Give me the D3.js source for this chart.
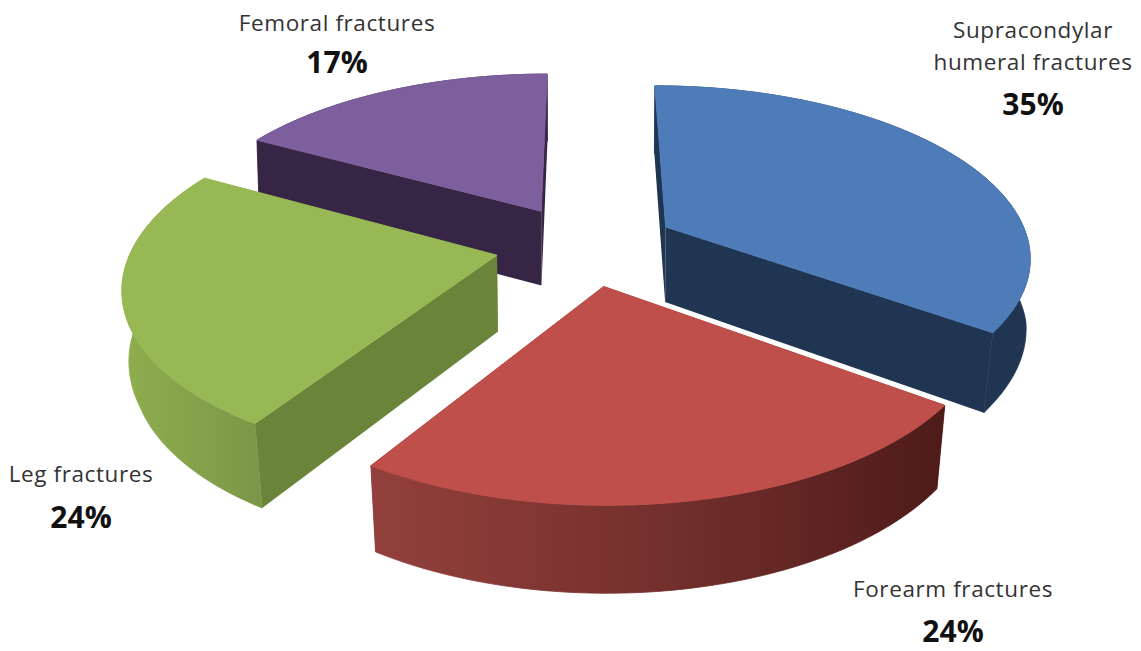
<!DOCTYPE html>
<html>
<head>
<meta charset="utf-8">
<script src="https://cdnjs.cloudflare.com/ajax/libs/d3/7.8.5/d3.min.js"></script>
<style>
  html, body { margin: 0; padding: 0; background: #fff; }
  svg { display: block; }
  text { font-family: "Open Sans", sans-serif; text-anchor: middle; }
  .name { font-size: 22.5px; letter-spacing: 0.6px; fill: #333; }
  .pct { font-size: 30px; font-weight: 700; fill: #111; }
</style>
</head>
<body>
<script>
(function(d3) {
  "use strict";

  var categories = ["Supracondylar humeral fractures", "Forearm fractures", "Leg fractures", "Femoral fractures"];
  var shares = [35, 24, 24, 17];
  var topColors = ["#4e7cb8", "#bf4f4b", "#98b855", "#7d5f9d"];
  var wallColors = ["#1f3552", "#6f2a28", "#6a843a", "#372545"];
  var rimStops = [
    ["#1f3552", "#1f3552"],
    ["#93403c", "#74302d", "#4e1b19"],
    ["#8fae4e", "#7b9647"],
    ["#372545", "#372545"]
  ];
  var nameLines = [["Supracondylar", "humeral fractures"], ["Forearm fractures"], ["Leg fractures"], ["Femoral fractures"]];
  var pctLabels = ["35%", "24%", "24%", "17%"];
  var drawOrder = [3, 0, 2, 1];

  var width = 1141, height = 651;
  var explodeX = 0.25, explodeY = 0.24;   // how far each slice is pulled out, in radii
  var persp = 0.16;     // how fast things shrink toward the back
  var thickness = 76;

  var x = d3.scaleLinear().domain([-1, 1]).range([586 - 364, 586 + 364]);
  var y = d3.scaleLinear().domain([-1, 1]).range([245 + 169, 245 - 169]);
  // underside sits a bit further from the camera, more so at the front
  var lowShrink = d3.scaleLinear().domain([-0.45, 0]).range([0.978, 0.993]).clamp(true);

  var svg = d3.select("body").append("svg")
      .attr("width", width)
      .attr("height", height);
  var defs = svg.append("defs");

  var slices = d3.pie().sort(null).value(function(d) { return d; })(shares);

  // ground plane (px, py) -> screen, lifted down by the slab thickness when low is set
  function project(px, py, low) {
    var w = 1 + persp * py;
    if (low) {
      return [x(lowShrink(py) * px / w), y(py / w) + thickness / (1 + 0.11 * py)];
    }
    return [x(px / w), y(py / w)];
  }

  function sliceGeom(s) {
    var mid = (s.startAngle + s.endAngle) / 2;
    var ax = explodeX * Math.sin(mid), ay = explodeY * Math.cos(mid);
    var rim = d3.range(0, 61).map(function(i) {
      var t = s.startAngle + (s.endAngle - s.startAngle) * i / 60;
      return [ax + Math.sin(t), ay + Math.cos(t)];
    });
    return { apex: [ax, ay], rim: rim };
  }

  var line = d3.line().curve(d3.curveLinearClosed);

  function up(p) { return project(p[0], p[1], false); }
  function down(p) { return project(p[0], p[1], true); }

  drawOrder.forEach(function(i) {
    var g = sliceGeom(slices[i]);
    var rim = g.rim;
    var first = rim[0], last = rim[rim.length - 1];
    var group = svg.append("g").attr("class", "slice");

    var grad = defs.append("linearGradient").attr("id", "rim" + i);
    rimStops[i].forEach(function(c, j, all) {
      grad.append("stop").attr("offset", j / (all.length - 1)).attr("stop-color", c);
    });

    // cut faces first, then the curved outside (stroke hides the seam), the top goes over all of it
    [first, last].forEach(function(p) {
      group.append("path")
          .attr("d", line([up(g.apex), up(p), down(p), down(g.apex)]))
          .attr("fill", wallColors[i]);
    });

    group.append("path")
        .attr("d", line(rim.map(up).concat(rim.slice().reverse().map(down))))
        .attr("fill", "url(#rim" + i + ")")
        .attr("stroke", "url(#rim" + i + ")")
        .attr("stroke-width", 0.8);

    group.append("path")
        .attr("d", line([up(g.apex)].concat(rim.map(up))))
        .attr("fill", topColors[i])
        .attr("stroke", topColors[i])
        .attr("stroke-width", 1);
  });

  var labelX = [1033, 953, 81, 337];
  var nameY = [[38, 70], [597], [482], [31]];
  var pctY = [115, 642, 528, 73];

  categories.forEach(function(c, i) {
    var label = svg.append("g").attr("class", "label");
    nameLines[i].forEach(function(t, j) {
      label.append("text").attr("class", "name")
          .attr("x", labelX[i]).attr("y", nameY[i][j]).text(t);
    });
    label.append("text").attr("class", "pct")
        .attr("x", labelX[i]).attr("y", pctY[i]).text(pctLabels[i]);
  });

}(d3));
</script>
</body>
</html>
